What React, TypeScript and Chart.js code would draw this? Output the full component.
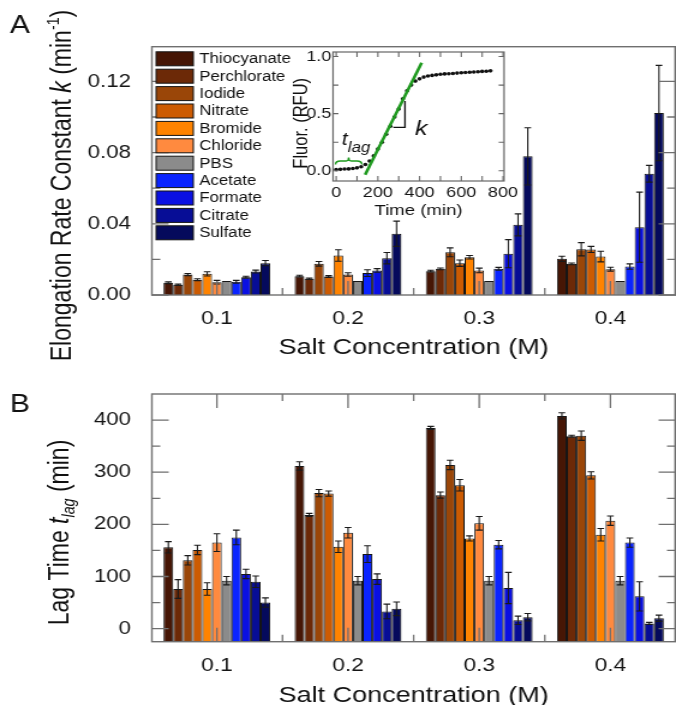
import React, { useEffect, useRef } from 'react';
import { Chart, registerables } from 'chart.js';

Chart.register(...registerables);

const FONT = '"Liberation Sans", Arial, Helvetica, sans-serif';
Chart.defaults.font.family = FONT;

const VIEW_W = 676;
const CANVAS_W = 563;
const SX = VIEW_W / CANVAS_W;

// ---------- categories / series ----------
const concentrations = ['0.1', '0.2', '0.3', '0.4'];
const salts = ['Thiocyanate', 'Perchlorate', 'Iodide', 'Nitrate', 'Bromide', 'Chloride', 'PBS', 'Acetate', 'Formate', 'Citrate', 'Sulfate'];
const saltColors = ['#461605', '#6c2907', '#9a4608', '#cc5b02', '#ff8300', '#ff8a3f', '#8b8b8b', '#0a24ff', '#0a10e2', '#070d96', '#050a5c'];

// Panel A: elongation rate constant k (min^-1)
const kThiocyanate = [0.0069, 0.0106, 0.0134, 0.0203];
const kPerchlorate = [0.0057, 0.0091, 0.0147, 0.0175];
const kIodide = [0.0115, 0.0175, 0.024, 0.0257];
const kNitrate = [0.0086, 0.0104, 0.0179, 0.0256];
const kBromide = [0.0119, 0.0222, 0.0212, 0.0216];
const kChloride = [0.0072, 0.0115, 0.0138, 0.0145];
const kPBS = [0.0078, 0.0078, 0.0078, 0.0078];
const kAcetate = [0.0074, 0.0123, 0.0147, 0.016];
const kFormate = [0.01, 0.0138, 0.0232, 0.0381];
const kCitrate = [0.0132, 0.0207, 0.0394, 0.0681];
const kSulfate = [0.0179, 0.0344, 0.0779, 0.1022];

const kErrThiocyanate = [0.0005, 0.0005, 0.0005, 0.0015];
const kErrPerchlorate = [0.0004, 0.0004, 0.0005, 0.0005];
const kErrIodide = [0.0006, 0.0013, 0.0025, 0.0037];
const kErrNitrate = [0.0005, 0.0005, 0.0018, 0.0017];
const kErrBromide = [0.0012, 0.0032, 0.001, 0.003];
const kErrChloride = [0.001, 0.001, 0.0013, 0.0011];
const kErrPBS = [0, 0, 0, 0];
const kErrAcetate = [0.0008, 0.0019, 0.0008, 0.0015];
const kErrFormate = [0.0005, 0.001, 0.0079, 0.0197];
const kErrCitrate = [0.0008, 0.0032, 0.0062, 0.0047];
const kErrSulfate = [0.0015, 0.0071, 0.0161, 0.0268];

// Panel B: lag time (min)
const lagThiocyanate = [156, 312, 385, 408];
const lagPerchlorate = [76, 218, 256, 369];
const lagIodide = [131, 260, 314, 370];
const lagNitrate = [151, 259, 275, 294];
const lagBromide = [76, 157, 173, 180];
const lagChloride = [165, 184, 202, 207];
const lagPBS = [92, 92, 92, 92];
const lagAcetate = [175, 143, 161, 165];
const lagFormate = [105, 95, 78, 62];
const lagCitrate = [90, 33, 16, 10];
const lagSulfate = [50, 38, 22, 20];

const lagErrThiocyanate = [11, 8, 3, 6];
const lagErrPerchlorate = [18, 3, 6, 2];
const lagErrIodide = [9, 7, 9, 9];
const lagErrNitrate = [9, 5, 11, 7];
const lagErrBromide = [12, 11, 5, 12];
const lagErrChloride = [17, 10, 13, 9];
const lagErrPBS = [8, 8, 8, 8];
const lagErrAcetate = [14, 16, 8, 9];
const lagErrFormate = [9, 10, 30, 28];
const lagErrCitrate = [11, 14, 8, 2];
const lagErrSulfate = [9, 13, 7, 6];

// tick labels
const kTickValues = [0, 0.04, 0.08, 0.12];
const kTickLabels = ['0.00', '0.04', '0.08', '0.12'];
const kTickMarks = [0, 0.02, 0.04, 0.06, 0.08, 0.1, 0.12];
const lagTickValues = [0, 100, 200, 300, 400];
const lagTickLabels = ['0', '100', '200', '300', '400'];
const lagTickMarks = [0, 50, 100, 150, 200, 250, 300, 350, 400];

// Inset: fluorescence time course
const insetTime = [0, 20, 40, 60, 80, 100, 120, 140, 160, 180, 200, 220, 240, 260, 280, 300, 320, 340, 360, 380, 400, 420, 440, 460, 480, 500, 520, 540, 560, 580, 600, 620, 640, 660, 680, 700, 720, 740];
const insetFluor = [0.01, 0.012, 0.015, 0.016, 0.02, 0.025, 0.035, 0.055, 0.085, 0.13, 0.19, 0.25, 0.32, 0.39, 0.47, 0.54, 0.63, 0.7, 0.75, 0.785, 0.805, 0.82, 0.83, 0.835, 0.84, 0.845, 0.848, 0.85, 0.852, 0.855, 0.858, 0.86, 0.862, 0.865, 0.867, 0.87, 0.872, 0.875];
const fitTime = [139, 410];
const fitFluor = [-0.036, 0.945];
const insetXTickValues = [0, 200, 400, 600, 800];
const insetXTickLabels = ['0', '200', '400', '600', '800'];
const insetXTickMarks = [0, 100, 200, 300, 400, 500, 600, 700, 800];
const insetYTickValues = [0, 0.5, 1.0];
const insetYTickLabels = ['0.0', '0.5', '1.0'];
const insetYTickMarks = [0, 0.25, 0.5, 0.75, 1.0];

const kSeries = [kThiocyanate, kPerchlorate, kIodide, kNitrate, kBromide, kChloride, kPBS, kAcetate, kFormate, kCitrate, kSulfate];
const kErrSeries = [kErrThiocyanate, kErrPerchlorate, kErrIodide, kErrNitrate, kErrBromide, kErrChloride, kErrPBS, kErrAcetate, kErrFormate, kErrCitrate, kErrSulfate];
const lagSeries = [lagThiocyanate, lagPerchlorate, lagIodide, lagNitrate, lagBromide, lagChloride, lagPBS, lagAcetate, lagFormate, lagCitrate, lagSulfate];
const lagErrSeries = [lagErrThiocyanate, lagErrPerchlorate, lagErrIodide, lagErrNitrate, lagErrBromide, lagErrChloride, lagErrPBS, lagErrAcetate, lagErrFormate, lagErrCitrate, lagErrSulfate];

// ---------- helpers ----------
type TextPart = { text: string; italic?: boolean; script?: 'sup' | 'sub' };

function partFont(p: TextPart, size: number) {
  const s = p.script ? size * 0.62 : size;
  return `${p.italic ? 'italic ' : ''}${s}px ${FONT}`;
}

function drawRich(ctx: CanvasRenderingContext2D, parts: TextPart[], size: number, cx: number, y: number) {
  let total = 0;
  const widths = parts.map((p) => {
    ctx.font = partFont(p, size);
    const w = ctx.measureText(p.text).width;
    total += w;
    return w;
  });
  let x = cx - total / 2;
  ctx.textAlign = 'left';
  ctx.textBaseline = 'alphabetic';
  parts.forEach((p, i) => {
    ctx.font = partFont(p, size);
    const dy = p.script === 'sup' ? -size * 0.42 : p.script === 'sub' ? size * 0.22 : 0;
    ctx.fillText(p.text, x, y + dy);
    x += widths[i];
  });
}

const findLabel = (values: number[], labels: string[], v: number) => {
  const i = values.findIndex((t) => Math.abs(t - v) < 1e-9);
  return i >= 0 ? labels[i] : '';
};

const errorBarPlugin = {
  id: 'errorBars',
  afterDatasetsDraw(chart: any) {
    const ctx = chart.ctx;
    const y = chart.scales.y;
    ctx.save();
    ctx.strokeStyle = '#1a1a1a';
    ctx.lineWidth = 1.1;
    chart.data.datasets.forEach((ds: any, i: number) => {
      const meta = chart.getDatasetMeta(i);
      const errs: number[] = ds.errors;
      if (!errs) return;
      meta.data.forEach((el: any, j: number) => {
        const e = errs[j];
        if (!e) return;
        const v = ds.data[j];
        const x = el.x;
        const y1 = y.getPixelForValue(v + e);
        const y2 = y.getPixelForValue(v - e);
        const cap = 2.8;
        ctx.beginPath();
        ctx.moveTo(x, y1);
        ctx.lineTo(x, y2);
        ctx.moveTo(x - cap, y1);
        ctx.lineTo(x + cap, y1);
        ctx.moveTo(x - cap, y2);
        ctx.lineTo(x + cap, y2);
        ctx.stroke();
      });
    });
    ctx.restore();
  },
};

type PanelOpts = {
  values: number[][];
  errors: number[][];
  yMin: number;
  yMax: number;
  tickValues: number[];
  tickLabels: string[];
  tickMarks: number[];
  topTicks: boolean;
  letter: string;
  letterY: number;
  yTitle: TextPart[];
  yTitleCenter: number;
  yTitleBaseX: number;
  xTitleBaseline: number;
  legend: boolean;
  padTop: number;
  xAxisHeight: number;
};

function makeBarConfig(o: PanelOpts): any {
  const decorPlugin = {
    id: 'decor',
    afterDraw(chart: any) {
      const ctx: CanvasRenderingContext2D = chart.ctx;
      const { left, right, top, bottom } = chart.chartArea;
      const xs = chart.scales.x;
      const ys = chart.scales.y;
      ctx.save();
      // ticks
      ctx.strokeStyle = '#6f6f6f';
      ctx.lineWidth = 1.3;
      ctx.beginPath();
      o.tickMarks.forEach((v) => {
        const py = ys.getPixelForValue(v);
        const major = o.tickValues.some((t) => Math.abs(t - v) < 1e-9);
        const len = major ? 14.5 : 7.5;
        ctx.moveTo(left, py);
        ctx.lineTo(left + len, py);
        ctx.moveTo(right, py);
        ctx.lineTo(right - len, py);
      });
      const centers = concentrations.map((_, i) => xs.getPixelForTick(i));
      const mids = centers.slice(1).map((c, i) => (c + centers[i]) / 2);
      centers.forEach((cx) => {
        ctx.moveTo(cx, bottom);
        ctx.lineTo(cx, bottom - 14);
        if (o.topTicks) {
          ctx.moveTo(cx, top);
          ctx.lineTo(cx, top + 14);
        }
      });
      mids.forEach((mx) => {
        ctx.moveTo(mx, bottom);
        ctx.lineTo(mx, bottom - 7);
        if (o.topTicks) {
          ctx.moveTo(mx, top);
          ctx.lineTo(mx, top + 7);
        }
      });
      ctx.stroke();
      // frame
      ctx.lineWidth = 1.4;
      ctx.strokeRect(left + 0.5, top, right - left - 1.2, bottom - top);

      // legend
      if (o.legend) {
        salts.forEach((s, i) => {
          const cy = 58.8 + i * 17.4;
          ctx.fillStyle = saltColors[i];
          ctx.fillRect(130, cy - 7, 31, 14);
          ctx.strokeStyle = '#151515';
          ctx.lineWidth = 1;
          ctx.strokeRect(130, cy - 7, 31, 14);
          ctx.fillStyle = '#111';
          ctx.font = `14px ${FONT}`;
          ctx.textAlign = 'left';
          ctx.textBaseline = 'middle';
          ctx.fillText(s, 166, cy + 0.5);
        });
      }

      // letter
      ctx.fillStyle = '#111';
      ctx.font = `25px ${FONT}`;
      ctx.textAlign = 'left';
      ctx.textBaseline = 'alphabetic';
      ctx.fillText(o.letter, 8.3, o.letterY);

      // x title
      drawRich(ctx, [{ text: 'Salt Concentration (M)' }], 22.5, (left + right) / 2, o.xTitleBaseline);

      // y title
      ctx.save();
      ctx.translate(o.yTitleBaseX, o.yTitleCenter);
      ctx.rotate(-Math.PI / 2);
      drawRich(ctx, o.yTitle, 23, 0, 0);
      ctx.restore();

      ctx.restore();
    },
  };

  return {
    type: 'bar',
    data: {
      labels: concentrations,
      datasets: salts.map((s, i) => ({
        label: s,
        data: o.values[i],
        errors: o.errors[i],
        backgroundColor: saltColors[i],
        borderColor: '#151515',
        borderWidth: 1,
        base: o.yMin,
      })),
    },
    options: {
      responsive: false,
      animation: false,
      devicePixelRatio: 1,
      events: [],
      layout: { padding: { top: o.padTop, right: 0, bottom: 0, left: 0 } },
      datasets: { bar: { categoryPercentage: 0.814, barPercentage: 1 } },
      plugins: { legend: { display: false }, tooltip: { enabled: false } },
      scales: {
        x: {
          type: 'category',
          offset: true,
          grid: { display: false, drawTicks: false },
          border: { display: false },
          ticks: { color: '#141414', font: { family: FONT, size: 19 }, padding: 12.5, maxRotation: 0, autoSkip: false },
          afterFit: (s: any) => {
            s.height = o.xAxisHeight;
            s.paddingLeft = 0;
            s.paddingRight = 0;
          },
        },
        y: {
          type: 'linear',
          min: o.yMin,
          max: o.yMax,
          grid: { display: false, drawTicks: false },
          border: { display: false },
          afterBuildTicks: (s: any) => {
            s.ticks = o.tickValues.map((value) => ({ value }));
          },
          ticks: {
            color: '#141414',
            font: { family: FONT, size: 18.5 },
            padding: 17,
            autoSkip: false,
            callback: (v: any) => findLabel(o.tickValues, o.tickLabels, Number(v)),
          },
          afterFit: (s: any) => {
            s.width = 126;
            s.paddingTop = 0;
            s.paddingBottom = 0;
          },
        },
      },
    },
    plugins: [errorBarPlugin, decorPlugin],
  };
}

function makeInsetConfig(): any {
  const insetPlugin = {
    id: 'insetDecor',
    afterDraw(chart: any) {
      const ctx: CanvasRenderingContext2D = chart.ctx;
      const { left, right, top, bottom } = chart.chartArea;
      const xs = chart.scales.x;
      const ys = chart.scales.y;
      ctx.save();
      ctx.strokeStyle = '#666';
      ctx.lineWidth = 1.1;
      ctx.beginPath();
      insetXTickMarks.forEach((v) => {
        const px = xs.getPixelForValue(v);
        ctx.moveTo(px, bottom);
        ctx.lineTo(px, bottom - 5);
        ctx.moveTo(px, top);
        ctx.lineTo(px, top + 5);
      });
      insetYTickMarks.forEach((v) => {
        const py = ys.getPixelForValue(v);
        ctx.moveTo(left, py);
        ctx.lineTo(left + 4.5, py);
        ctx.moveTo(right, py);
        ctx.lineTo(right - 4.5, py);
      });
      ctx.stroke();
      ctx.lineWidth = 1.2;
      ctx.strokeRect(left, top, right - left, bottom - top);

      // t_lag brace (green)
      const X = (t: number) => xs.getPixelForValue(t);
      const Y = (f: number) => ys.getPixelForValue(f);
      ctx.strokeStyle = '#1f9a1f';
      ctx.lineWidth = 1.4;
      ctx.beginPath();
      ctx.moveTo(X(-3), Y(0.055));
      ctx.quadraticCurveTo(X(-3), Y(0.085), X(20), Y(0.085));
      ctx.lineTo(X(48), Y(0.085));
      ctx.quadraticCurveTo(X(60), Y(0.085), X(60), Y(0.115));
      ctx.quadraticCurveTo(X(60), Y(0.085), X(72), Y(0.085));
      ctx.lineTo(X(100), Y(0.085));
      ctx.quadraticCurveTo(X(123), Y(0.085), X(123), Y(0.055));
      ctx.stroke();

      // slope marker
      ctx.strokeStyle = '#111';
      ctx.lineWidth = 1.3;
      ctx.beginPath();
      ctx.moveTo(X(330), Y(0.61));
      ctx.lineTo(X(330), Y(0.38));
      ctx.lineTo(X(274), Y(0.38));
      ctx.stroke();

      // labels
      ctx.fillStyle = '#111';
      ctx.textAlign = 'left';
      ctx.textBaseline = 'alphabetic';
      ctx.font = `italic 18px ${FONT}`;
      ctx.fillText('t', X(27), Y(0.223));
      const tw = ctx.measureText('t').width;
      ctx.font = `italic 14px ${FONT}`;
      ctx.fillText('lag', X(27) + tw, Y(0.16));
      ctx.font = `italic 21px ${FONT}`;
      ctx.fillText('k', X(378), Y(0.31));

      // axis titles
      drawRich(ctx, [{ text: 'Time (min)' }], 15.5, (left + right) / 2, 169.5);
      ctx.save();
      ctx.translate(30.8, 78.3);
      ctx.rotate(-Math.PI / 2);
      drawRich(ctx, [{ text: 'Fluor. (RFU)' }], 16.5, 0, 0);
      ctx.restore();
      ctx.restore();
    },
  };

  return {
    type: 'scatter',
    data: {
      datasets: [
        {
          type: 'line',
          label: 'fit',
          data: fitTime.map((x, i) => ({ x, y: fitFluor[i] })),
          borderColor: '#1f9a1f',
          borderWidth: 2.6,
          pointRadius: 0,
          showLine: true,
          fill: false,
        },
        {
          type: 'scatter',
          label: 'data',
          data: insetTime.map((x, i) => ({ x, y: insetFluor[i] })),
          pointRadius: 1.8,
          backgroundColor: '#111',
          borderColor: '#111',
          borderWidth: 0,
        },
      ],
    },
    options: {
      responsive: false,
      animation: false,
      devicePixelRatio: 1,
      events: [],
      layout: { padding: { top: 7, right: 45, bottom: 0, left: 0 } },
      plugins: { legend: { display: false }, tooltip: { enabled: false } },
      scales: {
        x: {
          type: 'linear',
          min: -15,
          max: 805,
          grid: { display: false, drawTicks: false },
          border: { display: false },
          afterBuildTicks: (s: any) => {
            s.ticks = insetXTickValues.map((value) => ({ value }));
          },
          ticks: {
            color: '#141414',
            font: { family: FONT, size: 15 },
            padding: 3.3,
            maxRotation: 0,
            autoSkip: false,
            callback: (v: any) => findLabel(insetXTickValues, insetXTickLabels, Number(v)),
          },
          afterFit: (s: any) => {
            s.height = 39;
            s.paddingLeft = 0;
            s.paddingRight = 0;
          },
        },
        y: {
          type: 'linear',
          min: -0.09,
          max: 1.04,
          grid: { display: false, drawTicks: false },
          border: { display: false },
          afterBuildTicks: (s: any) => {
            s.ticks = insetYTickValues.map((value) => ({ value }));
          },
          ticks: {
            color: '#141414',
            font: { family: FONT, size: 15 },
            padding: 1.5,
            autoSkip: false,
            callback: (v: any) => findLabel(insetYTickValues, insetYTickLabels, Number(v)),
          },
          afterFit: (s: any) => {
            s.width = 52.5;
            s.paddingTop = 0;
            s.paddingBottom = 0;
          },
        },
      },
    },
    plugins: [insetPlugin],
  };
}

function ChartCanvas(props: { make: () => any; left: number; top: number; width: number; height: number }) {
  const ref = useRef<HTMLCanvasElement>(null);
  useEffect(() => {
    const chart = new Chart(ref.current as HTMLCanvasElement, props.make());
    return () => chart.destroy();
  }, []);
  return (
    <canvas
      ref={ref}
      width={props.width}
      height={props.height}
      style={{
        position: 'absolute',
        left: props.left * SX,
        top: props.top,
        width: props.width * SX,
        height: props.height,
        display: 'block',
      }}
    />
  );
}

export default function App() {
  const panelA = () =>
    makeBarConfig({
      values: kSeries,
      errors: kErrSeries,
      yMin: 0,
      yMax: 0.1395,
      tickValues: kTickValues,
      tickLabels: kTickLabels,
      tickMarks: kTickMarks,
      topTicks: false,
      letter: 'A',
      letterY: 33.3,
      yTitle: [
        { text: 'Elongation Rate Constant ' },
        { text: 'k', italic: true },
        { text: ' (min' },
        { text: '-1', script: 'sup' },
        { text: ')' },
      ],
      yTitleCenter: 185.5,
      yTitleBaseX: 58.5,
      xTitleBaseline: 354,
      legend: true,
      padTop: 46.7,
      xAxisHeight: 65,
    });
  const panelB = () =>
    makeBarConfig({
      values: lagSeries,
      errors: lagErrSeries,
      yMin: -25,
      yMax: 450,
      tickValues: lagTickValues,
      tickLabels: lagTickLabels,
      tickMarks: lagTickMarks,
      topTicks: true,
      letter: 'B',
      letterY: 60,
      yTitle: [
        { text: 'Lag Time ' },
        { text: 't', italic: true },
        { text: 'lag', italic: true, script: 'sub' },
        { text: ' (min)' },
      ],
      yTitleCenter: 180.5,
      yTitleBaseX: 57,
      xTitleBaseline: 349.5,
      legend: false,
      padTop: 42,
      xAxisHeight: 63.3,
    });
  return (
    <div
      style={{
        position: 'fixed',
        left: 0,
        top: 0,
        width: VIEW_W,
        height: 705,
        background: '#fff',
        overflow: 'hidden',
      }}
    >
      <ChartCanvas make={panelA} left={0} top={0} width={CANVAS_W} height={360} />
      <ChartCanvas make={makeInsetConfig} left={225} top={45} width={240} height={175} />
      <ChartCanvas make={panelB} left={0} top={352} width={CANVAS_W} height={353} />
    </div>
  );
}
